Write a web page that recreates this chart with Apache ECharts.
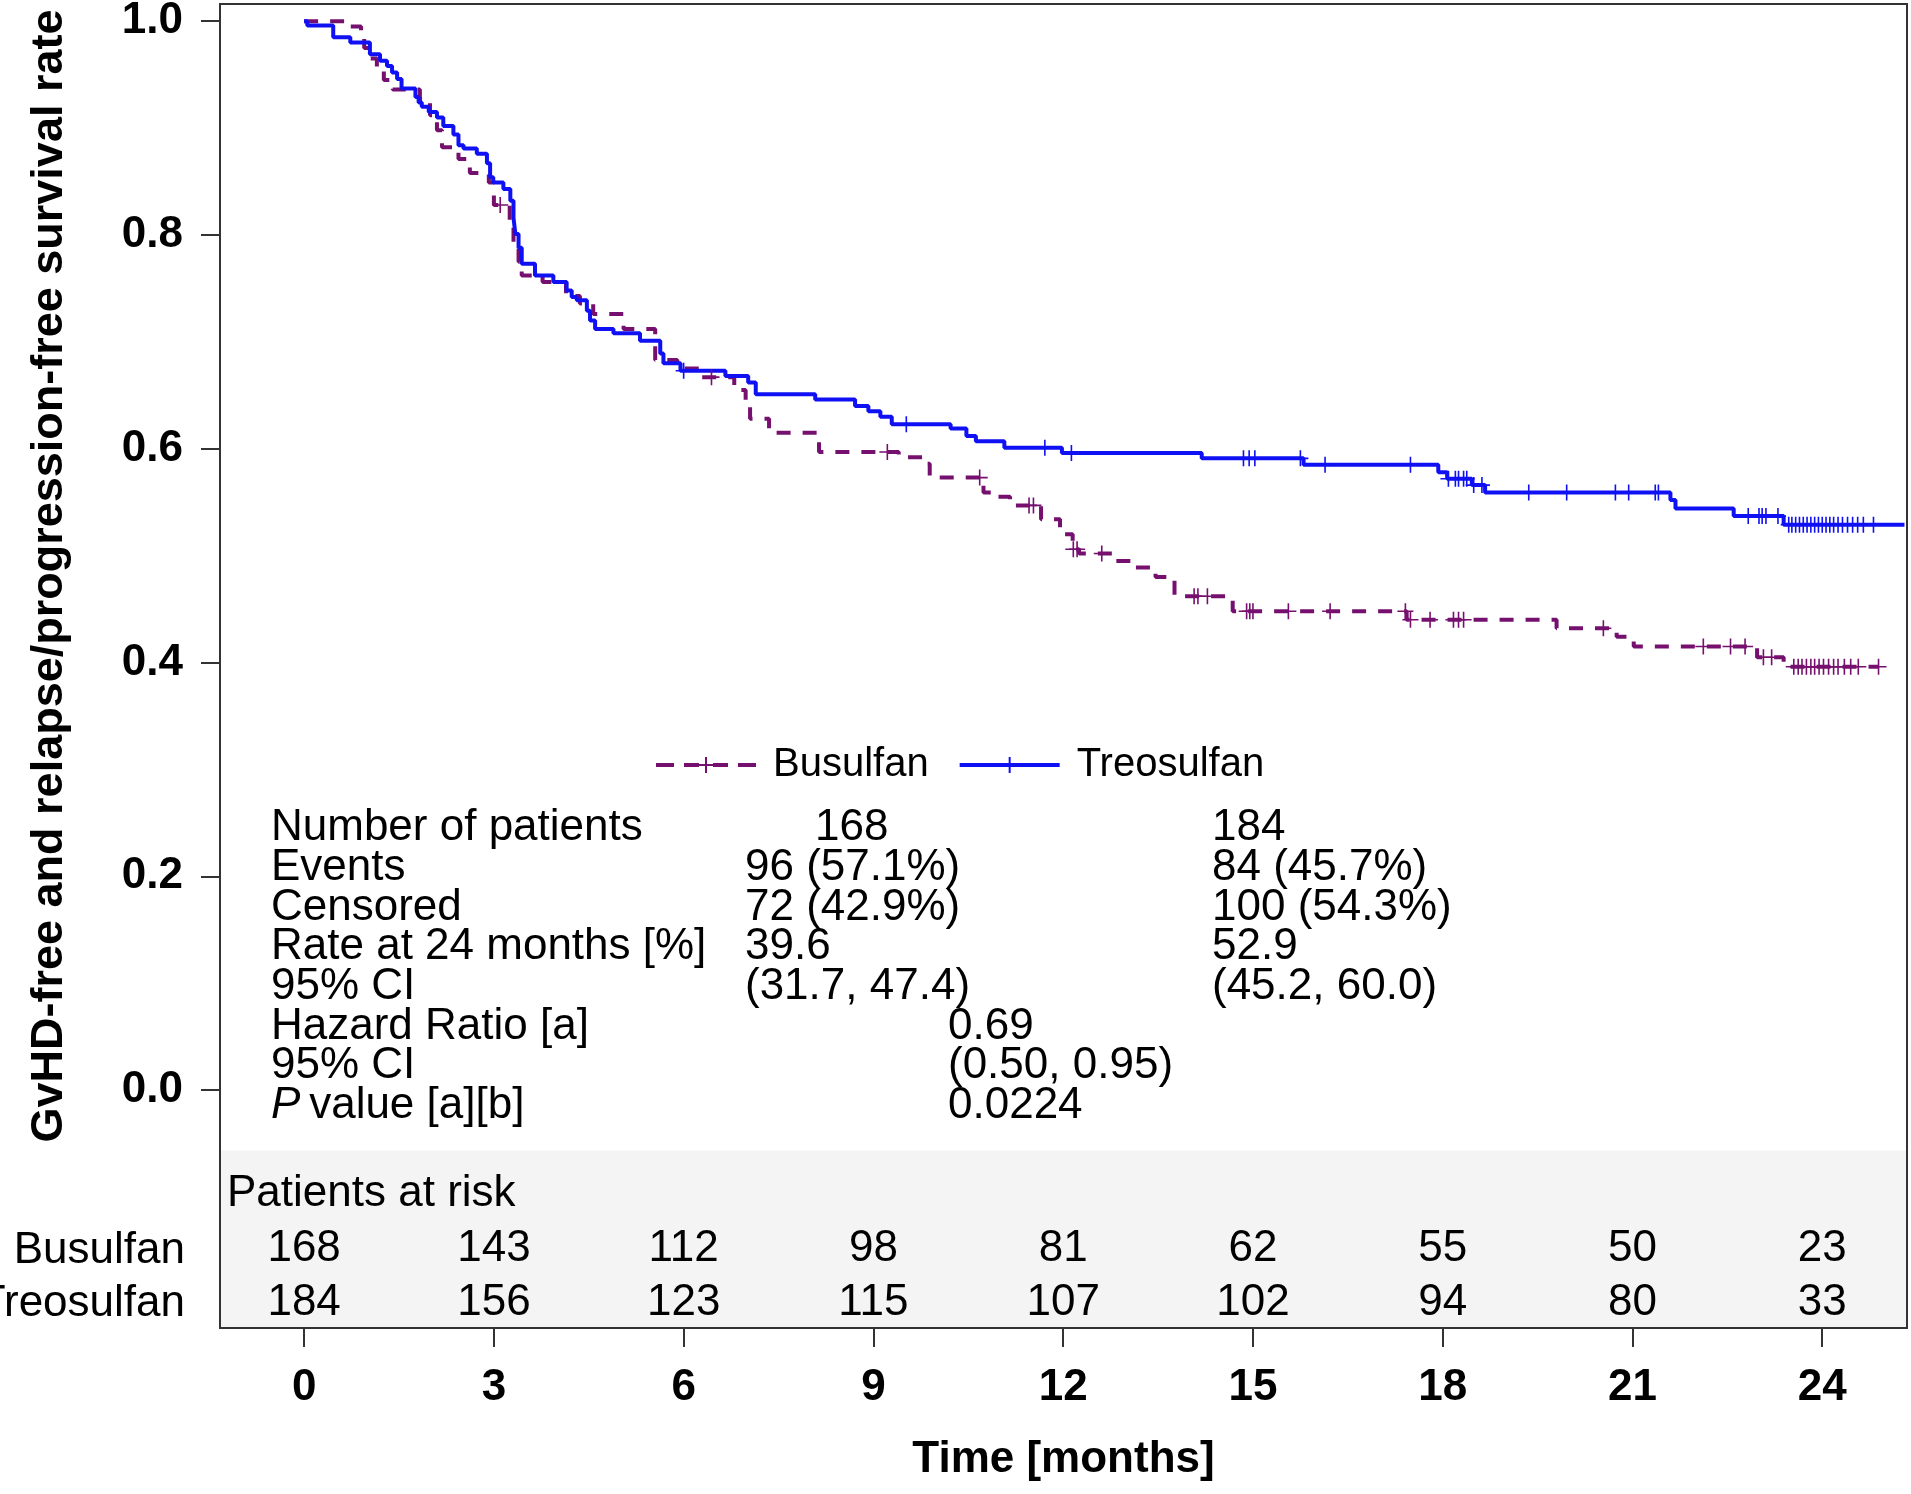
<!DOCTYPE html>
<html>
<head>
<meta charset="utf-8">
<title>GvHD-free and relapse/progression-free survival</title>
<script src="https://cdn.jsdelivr.net/npm/echarts@6.0.0/dist/echarts.min.js"></script>
<style>
    html, body { margin: 0; padding: 0; background: #fff; }
    #km_chart { width: 1911px; height: 1494px; }
</style>
</head>
<body>
<div id="km_chart"></div>
<script>
'use strict';

// Kaplan-Meier steps: time [months] and rate after the step
var busulfanTimes = [0, 0.73, 0.90, 0.95, 1.05, 1.15, 1.26, 1.40, 1.83, 1.99, 2.10, 2.18, 2.44, 2.62,
    2.92, 3.00, 3.25, 3.31, 3.39, 3.44, 3.77, 4.14, 4.36, 4.57, 5.05, 5.55, 5.90, 6.25, 6.80, 6.98,
    7.05, 7.35, 8.14, 9.40, 9.78, 9.89, 10.74, 10.89, 11.16, 11.65, 11.95, 12.15, 12.25, 12.79,
    13.10, 13.46, 13.76, 14.68, 17.43, 19.80, 20.75, 21.02, 22.97, 23.39];
var busulfanSurv = [1.0, 0.995, 0.985, 0.975, 0.965, 0.957, 0.945, 0.936, 0.927, 0.912, 0.898, 0.882,
    0.871, 0.858, 0.849, 0.828, 0.812, 0.790, 0.775, 0.762, 0.756, 0.743, 0.736, 0.726, 0.712, 0.683,
    0.675, 0.667, 0.655, 0.640, 0.628, 0.615, 0.597, 0.592, 0.586, 0.573, 0.559, 0.555, 0.547, 0.534,
    0.520, 0.506, 0.502, 0.495, 0.489, 0.480, 0.462, 0.448, 0.440, 0.432, 0.424, 0.415, 0.405, 0.396];
var busulfanLast = 24.89;
var busulfanCensor = [3.10, 6.44, 9.22, 10.68, 11.46, 11.53, 12.16, 12.22, 12.61, 14.07, 14.13, 14.28,
    14.90, 14.95, 15.00, 15.56, 16.22, 17.41, 17.49, 17.80, 18.17, 18.25, 18.33, 20.54, 22.12, 22.55,
    22.78, 23.07, 23.20, 23.55, 23.62, 23.68, 23.75, 23.82, 23.88, 23.95, 24.02, 24.10, 24.18, 24.25,
    24.35, 24.45, 24.57, 24.89];

var treosulfanTimes = [0, 0.05, 0.46, 0.73, 1.04, 1.20, 1.31, 1.39, 1.47, 1.54, 1.76, 1.81, 1.86, 1.97,
    2.10, 2.20, 2.36, 2.44, 2.52, 2.73, 2.89, 2.94, 2.99, 3.15, 3.26, 3.31, 3.34, 3.39, 3.44, 3.65,
    3.94, 4.15, 4.23, 4.31, 4.47, 4.52, 4.60, 4.89, 5.31, 5.63, 5.68, 5.95, 6.66, 7.02, 7.14, 8.08,
    8.71, 8.92, 9.11, 9.29, 10.22, 10.47, 10.62, 11.07, 11.98, 14.19, 15.80, 17.93, 18.07, 18.46,
    18.67, 21.60, 21.68, 22.60, 23.39];
var treosulfanSurv = [1.0, 0.996, 0.985, 0.980, 0.969, 0.963, 0.958, 0.952, 0.946, 0.937, 0.929, 0.924,
    0.920, 0.915, 0.910, 0.902, 0.894, 0.884, 0.881, 0.876, 0.867, 0.854, 0.849, 0.843, 0.832, 0.816,
    0.801, 0.788, 0.773, 0.762, 0.756, 0.748, 0.742, 0.739, 0.729, 0.720, 0.712, 0.708, 0.701, 0.689,
    0.680, 0.673, 0.668, 0.662, 0.651, 0.646, 0.640, 0.635, 0.630, 0.623, 0.619, 0.612, 0.607, 0.601,
    0.596, 0.591, 0.585, 0.578, 0.572, 0.566, 0.559, 0.552, 0.544, 0.537, 0.529];
var treosulfanLast = 25.3;
var treosulfanCensor = [6.00, 9.52, 11.71, 12.13, 14.85, 14.94, 15.03, 15.75, 16.14, 17.49, 18.09,
    18.20, 18.25, 18.33, 18.38, 18.49, 18.62, 19.36, 19.96, 20.73, 20.94, 21.36, 21.41, 22.83, 23.00,
    23.05, 23.11, 23.30, 23.47, 23.52, 23.58, 23.64, 23.70, 23.76, 23.82, 23.88, 23.94, 24.00, 24.06,
    24.12, 24.18, 24.25, 24.32, 24.40, 24.48, 24.56, 24.65, 24.81];

var xTicks = [0, 3, 6, 9, 12, 15, 18, 21, 24];
var yTicks = [0, 0.2, 0.4, 0.6, 0.8, 1.0];

// patients at risk at each x tick
var busulfanAtRisk = [168, 143, 112, 98, 81, 62, 55, 50, 23];
var treosulfanAtRisk = [184, 156, 123, 115, 107, 102, 94, 80, 33];

var statLabels = ['Number of patients', 'Events', 'Censored', 'Rate at 24 months [%]', '95% CI',
    'Hazard Ratio [a]', '95% CI', '{i|P}\u2009value [a][b]'];
var busulfanStats = ['168', '96 (57.1%)', '72 (42.9%)', '39.6', '(31.7, 47.4)'];
var treosulfanStats = ['184', '84 (45.7%)', '100 (54.3%)', '52.9', '(45.2, 60.0)'];
var hazardStats = ['0.69', '(0.50, 0.95)', '0.0224'];

var kmChart = null;

var FONT = '"Liberation Sans", Arial, sans-serif';
var PURPLE = '#76106f';
var BLUE = '#1010f4';
var PLUS = 'path://M0,9h20v2h-20z M9,0h2v20h-2z';

function stepLine(times, surv, last) {
    var pts = times.map(function (t, i) { return [t, surv[i]]; });
    pts.push([last, surv[surv.length - 1]]);
    return pts;
}

function survivalAt(times, surv, t) {
    var v = surv[0];
    for (var i = 0; i < times.length; i++) {
        if (times[i] <= t) v = surv[i];
    }
    return v;
}

function censorMarks(times, surv, censor) {
    return censor.map(function (t) { return [t, survivalAt(times, surv, t)]; });
}

function riskRow(counts, rowValue) {
    return counts.map(function (n, i) { return [xTicks[i], rowValue, n]; });
}

function txt(text, x, y, opts) {
    opts = opts || {};
    var font = (opts.bold ? 'bold ' : '') + (opts.size || 44) + 'px ' + FONT;
    return {
        type: 'text',
        x: x,
        y: y,
        rotation: opts.rotation || 0,
        silent: true,
        z: 10,
        style: {
            text: text,
            font: font,
            fill: '#000',
            align: opts.align || 'left',
            verticalAlign: 'middle',
            textAlign: opts.align || 'left',
            textVerticalAlign: 'middle',
            rich: {
                i: { fontStyle: 'italic', fontSize: 44, fontFamily: FONT, fill: '#000' }
            }
        }
    };
}

function riskSeries(name, counts, rowValue) {
    return {
        name: name,
        type: 'scatter',
        symbolSize: 1,
        silent: true,
        itemStyle: { color: 'rgba(0,0,0,0)', opacity: 1 },
        label: {
            show: true,
            position: 'inside',
            fontSize: 44,
            fontFamily: FONT,
            color: '#000',
            opacity: 1,
            formatter: function (p) { return p.value[2]; }
        },
        data: riskRow(counts, rowValue)
    };
}

function init() {
    const el = document.getElementById('km_chart');
    kmChart = echarts.init(el, null, { renderer: 'canvas' });

    const xMin = -1.33, xMax = 25.34;
    const yMin = -0.2226, yMax = 1.0161;

    const option = {
        animation: false,
        backgroundColor: '#fff',
        grid: {
            left: 220,
            right: 4,
            top: 4,
            bottom: 166,
            show: true,
            borderColor: '#333',
            borderWidth: 2,
            backgroundColor: 'transparent',
            outerBoundsMode: 'none'
        },
        legend: {
            left: 656,
            top: 745,
            padding: 0,
            itemWidth: 100,
            itemHeight: 16,
            itemGap: 31,
            selectedMode: false,
            itemStyle: { borderWidth: 0 },
            textStyle: { fontSize: 40, fontFamily: FONT, color: '#000', lineHeight: 40, padding: [0, 0, 0, 12] },
            data: [
                { name: 'Busulfan', icon: 'path://M0,6h18v4h-18z M28,6h15v4h-15z M57,6h15v4h-15z M82,6h18v4h-18z M49,0h2v16h-2z M42,7h16v2h-16z' },
                { name: 'Treosulfan', icon: 'path://M0,6h100v4h-100z M49,0h2v16h-2z' }
            ]
        },
        xAxis: {
            type: 'value',
            min: xMin,
            max: xMax,
            axisLine: { show: false, onZero: false },
            splitLine: { show: false },
            axisTick: { show: true, length: 19, customValues: xTicks, lineStyle: { color: '#333', width: 2 } },
            axisLabel: {
                customValues: xTicks,
                fontSize: 44,
                fontWeight: 'bold',
                fontFamily: FONT,
                color: '#000',
                margin: 38
            },
            name: 'Time [months]',
            nameLocation: 'middle',
            nameGap: 110,
            nameTextStyle: { fontSize: 44, fontWeight: 'bold', fontFamily: FONT, color: '#000' }
        },
        yAxis: {
            type: 'value',
            min: yMin,
            max: yMax,
            axisLine: { show: false, onZero: false },
            splitLine: { show: false },
            axisTick: { show: true, length: 19, customValues: yTicks, lineStyle: { color: '#333', width: 2 } },
            axisLabel: {
                customValues: yTicks,
                formatter: function (v) { return v.toFixed(1); },
                fontSize: 44,
                fontWeight: 'bold',
                fontFamily: FONT,
                color: '#000',
                margin: 37
            }
        },
        series: [
            {
                name: 'Busulfan',
                type: 'line',
                step: 'end',
                symbol: 'none',
                color: PURPLE,
                z: 3,
                silent: true,
                lineStyle: { color: PURPLE, width: 4, type: [14, 12] },
                data: stepLine(busulfanTimes, busulfanSurv, busulfanLast)
            },
            {
                name: 'Treosulfan',
                type: 'line',
                step: 'end',
                symbol: 'none',
                color: BLUE,
                z: 4,
                silent: true,
                lineStyle: { color: BLUE, width: 4 },
                data: stepLine(treosulfanTimes, treosulfanSurv, treosulfanLast)
            },
            {
                name: 'Busulfan censored',
                type: 'scatter',
                symbol: PLUS,
                symbolSize: 16,
                z: 5,
                silent: true,
                itemStyle: { color: PURPLE, opacity: 1 },
                data: censorMarks(busulfanTimes, busulfanSurv, busulfanCensor)
            },
            {
                name: 'Treosulfan censored',
                type: 'scatter',
                symbol: PLUS,
                symbolSize: 16,
                z: 5,
                silent: true,
                itemStyle: { color: BLUE, opacity: 1 },
                data: censorMarks(treosulfanTimes, treosulfanSurv, treosulfanCensor)
            },
            riskSeries('Busulfan at risk', busulfanAtRisk, -0.149),
            riskSeries('Treosulfan at risk', treosulfanAtRisk, -0.199)
        ]
    };
    kmChart.setOption(option);

    // grey band behind the at-risk table, from its top down to the frame
    const bandTL = kmChart.convertToPixel({ gridIndex: 0 }, [xMin, -0.0565]);
    const bandBR = kmChart.convertToPixel({ gridIndex: 0 }, [xMax, yMin]);

    const graphics = [
        {
            type: 'rect',
            silent: true,
            z: -1,
            shape: { x: bandTL[0] + 1, y: bandTL[1], width: bandBR[0] - bandTL[0] - 2, height: bandBR[1] - bandTL[1] - 1 },
            style: { fill: '#f4f4f4' }
        },
        txt('GvHD-free and relapse/progression-free survival rate', 50, 576, { bold: true, align: 'center', rotation: Math.PI / 2, size: 45 }),
        txt('Patients at risk', 227, 1194),
        txt('Busulfan', 185, 1251, { align: 'right' }),
        txt('Treosulfan', 185, 1304, { align: 'right' })
    ];

    const rowY0 = 828, rowGap = 39.7;
    statLabels.forEach(function (s, i) {
        graphics.push(txt(s, 271, rowY0 + i * rowGap));
    });
    busulfanStats.forEach(function (s, i) {
        graphics.push(txt(s, i === 0 ? 815 : 745, rowY0 + i * rowGap));
    });
    treosulfanStats.forEach(function (s, i) {
        graphics.push(txt(s, 1212, rowY0 + i * rowGap));
    });
    hazardStats.forEach(function (s, i) {
        graphics.push(txt(s, 948, rowY0 + (i + 5) * rowGap));
    });

    kmChart.setOption({ graphic: graphics });

    window.addEventListener('resize', function () {
        kmChart.resize();
    });
}

(function () {
    init();
})();
</script>
</body>
</html>
